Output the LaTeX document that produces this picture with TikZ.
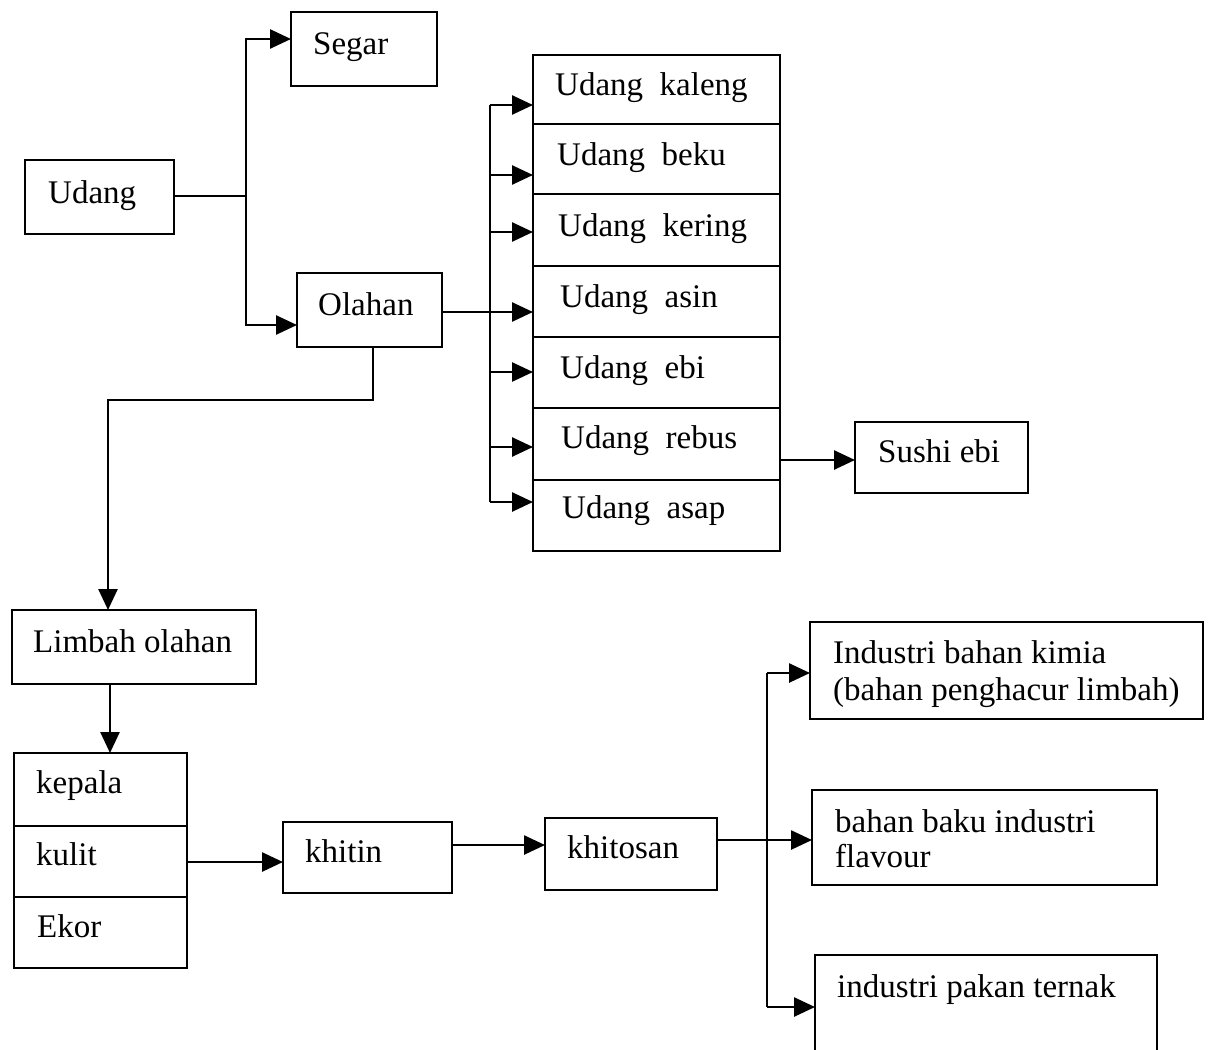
\documentclass[tikz,border=0pt]{standalone}
\usepackage{fontspec}
\setmainfont{Liberation Serif}
\usetikzlibrary{arrows.meta}
\begin{document}
\begin{tikzpicture}[x=1pt,y=-1pt,
  bx/.style={draw, line width=2.8pt, inner sep=0pt, outer sep=0pt, anchor=north west, rectangle},
  openbx/.style={draw=none, inner sep=0pt, outer sep=0pt, anchor=north west, rectangle},
  lbl/.style={inner sep=0pt, anchor=base west, font=\fontsize{33}{37}\selectfont},
  ln/.style={line width=2.6pt, line join=miter},
  arr/.style={line width=2.6pt, line join=miter, -{Triangle[length=21pt,width=19pt]}},
]
\useasboundingbox (0,0) rectangle (1214,1049);
\fill[white] (0,0) rectangle (1214,1049);

% boxes
\node[bx, minimum width=149pt, minimum height=74pt] (udang) at (25,160) {};
\node[bx, minimum width=146pt, minimum height=74pt] (segar) at (291,12) {};
\node[bx, minimum width=145pt, minimum height=74pt] (olahan) at (297,273) {};

\node[bx, minimum width=247pt, minimum height=69pt] (kaleng) at (533,55) {};
\node[bx, minimum width=247pt, minimum height=70pt] (beku) at (533,124) {};
\node[bx, minimum width=247pt, minimum height=72pt] (kering) at (533,194) {};
\node[bx, minimum width=247pt, minimum height=71pt] (asin) at (533,266) {};
\node[bx, minimum width=247pt, minimum height=71pt] (ebi) at (533,337) {};
\node[bx, minimum width=247pt, minimum height=72pt] (rebus) at (533,408) {};
\node[bx, minimum width=247pt, minimum height=71pt] (asap) at (533,480) {};

\node[bx, minimum width=173pt, minimum height=71pt] (sushi) at (855,422) {};
\node[bx, minimum width=244pt, minimum height=74pt] (limbah) at (12,610) {};

\node[bx, minimum width=173pt, minimum height=73pt] (kepala) at (14,753) {};
\node[bx, minimum width=173pt, minimum height=71pt] (kulit) at (14,826) {};
\node[bx, minimum width=173pt, minimum height=71pt] (ekor) at (14,897) {};

\node[bx, minimum width=169pt, minimum height=71pt] (khitin) at (283,822) {};
\node[bx, minimum width=172pt, minimum height=72pt] (khitosan) at (545,818) {};

\node[bx, minimum width=393pt, minimum height=97pt] (kimia) at (810,622) {};
\node[bx, minimum width=345pt, minimum height=95pt] (baku) at (812,790) {};
\node[openbx, minimum width=342pt, minimum height=100pt] (pakan) at (815,955) {};
\draw[line width=2.8pt] (pakan.south west) -- (pakan.north west) -- (pakan.north east) -- (pakan.south east);

% labels
\node[lbl] (tudang) at (48,203) {Udang};
\node[lbl] (tsegar) at (313,55) {Segar};
\node[lbl] (tolahan) at (318,315) {Olahan};
\node[lbl] (tkaleng) at (555,95) {Udang\ \ kaleng};
\node[lbl] (tbeku) at (557,165) {Udang\ \ beku};
\node[lbl] (tkering) at (558,236) {Udang\ \ kering};
\node[lbl] (tasin) at (560,307) {Udang\ \ asin};
\node[lbl] (tebi) at (560,378) {Udang\ \ ebi};
\node[lbl] (trebus) at (561,448) {Udang\ \ rebus};
\node[lbl] (tasap) at (562,518) {Udang\ \ asap};
\node[lbl] (tsushi) at (878,462) {Sushi ebi};
\node[lbl] (tlimbah) at (33,652) {Limbah olahan};
\node[lbl] (tkepala) at (36,793) {kepala};
\node[lbl] (tkulit) at (36,865) {kulit};
\node[lbl] (tekor) at (37,937) {Ekor};
\node[lbl] (tkhitin) at (305,862) {khitin};
\node[lbl] (tkhitosan) at (567,858) {khitosan};
\node[lbl] (tkimiaA) at (833,663) {Industri bahan kimia};
\node[lbl] (tkimiaB) at (833,700) {(bahan penghacur limbah)};
\node[lbl] (tbakuA) at (835,832) {bahan baku industri};
\node[lbl] (tbakuB) at (835,867) {flavour};
\node[lbl] (tpakan) at (837,997) {industri pakan ternak};

% connectors: Udang
\coordinate (a1) at (246,196);
\coordinate (a2) at (246,39);
\coordinate (a3) at (246,325);
\draw[ln] (udang.east |- a1) -- (a1);
\draw[arr] (a1) -- (a2) -- (a2 -| segar.west);
\draw[arr] (a1) -- (a3) -- (a3 -| olahan.west);

% Olahan -> products
\coordinate (b1) at (490,105);
\coordinate (b2) at (490,175);
\coordinate (b3) at (490,232);
\coordinate (b5) at (490,372);
\coordinate (b6) at (490,447);
\coordinate (b7) at (490,502);
\coordinate (o1) at (442,312);
\draw[ln] (b1) -- (b7);
\draw[arr] (b1) -- (b1 -| kaleng.west);
\draw[arr] (b2) -- (b2 -| beku.west);
\draw[arr] (b3) -- (b3 -| kering.west);
\draw[arr] (o1) -- (o1 -| asin.west);
\draw[arr] (b5) -- (b5 -| ebi.west);
\draw[arr] (b6) -- (b6 -| rebus.west);
\draw[arr] (b7) -- (b7 -| asap.west);

% rebus -> sushi
\coordinate (h1) at (780,460);
\draw[arr] (h1) -- (h1 -| sushi.west);

% Olahan -> Limbah
\coordinate (c0) at (373,347);
\coordinate (c1) at (373,400);
\coordinate (c2) at (108,400);
\draw[arr] (c0) -- (c1) -- (c2) -- (c2 |- limbah.north);

% Limbah -> kepala
\coordinate (d1) at (110,684);
\draw[arr] (d1) -- (d1 |- kepala.north);

% kulit -> khitin -> khitosan
\coordinate (k1) at (187,862);
\draw[arr] (k1) -- (k1 -| khitin.west);
\coordinate (e1) at (452,845);
\draw[arr] (e1) -- (e1 -| khitosan.west);

% khitosan -> industries
\coordinate (f1) at (717,840);
\coordinate (g1) at (767,673);
\coordinate (g2) at (767,1007);
\draw[ln] (g1) -- (g2);
\draw[arr] (f1) -- (f1 -| baku.west);
\draw[arr] (g1) -- (g1 -| kimia.west);
\draw[arr] (g2) -- (g2 -| pakan.west);
\end{tikzpicture}
\end{document}
